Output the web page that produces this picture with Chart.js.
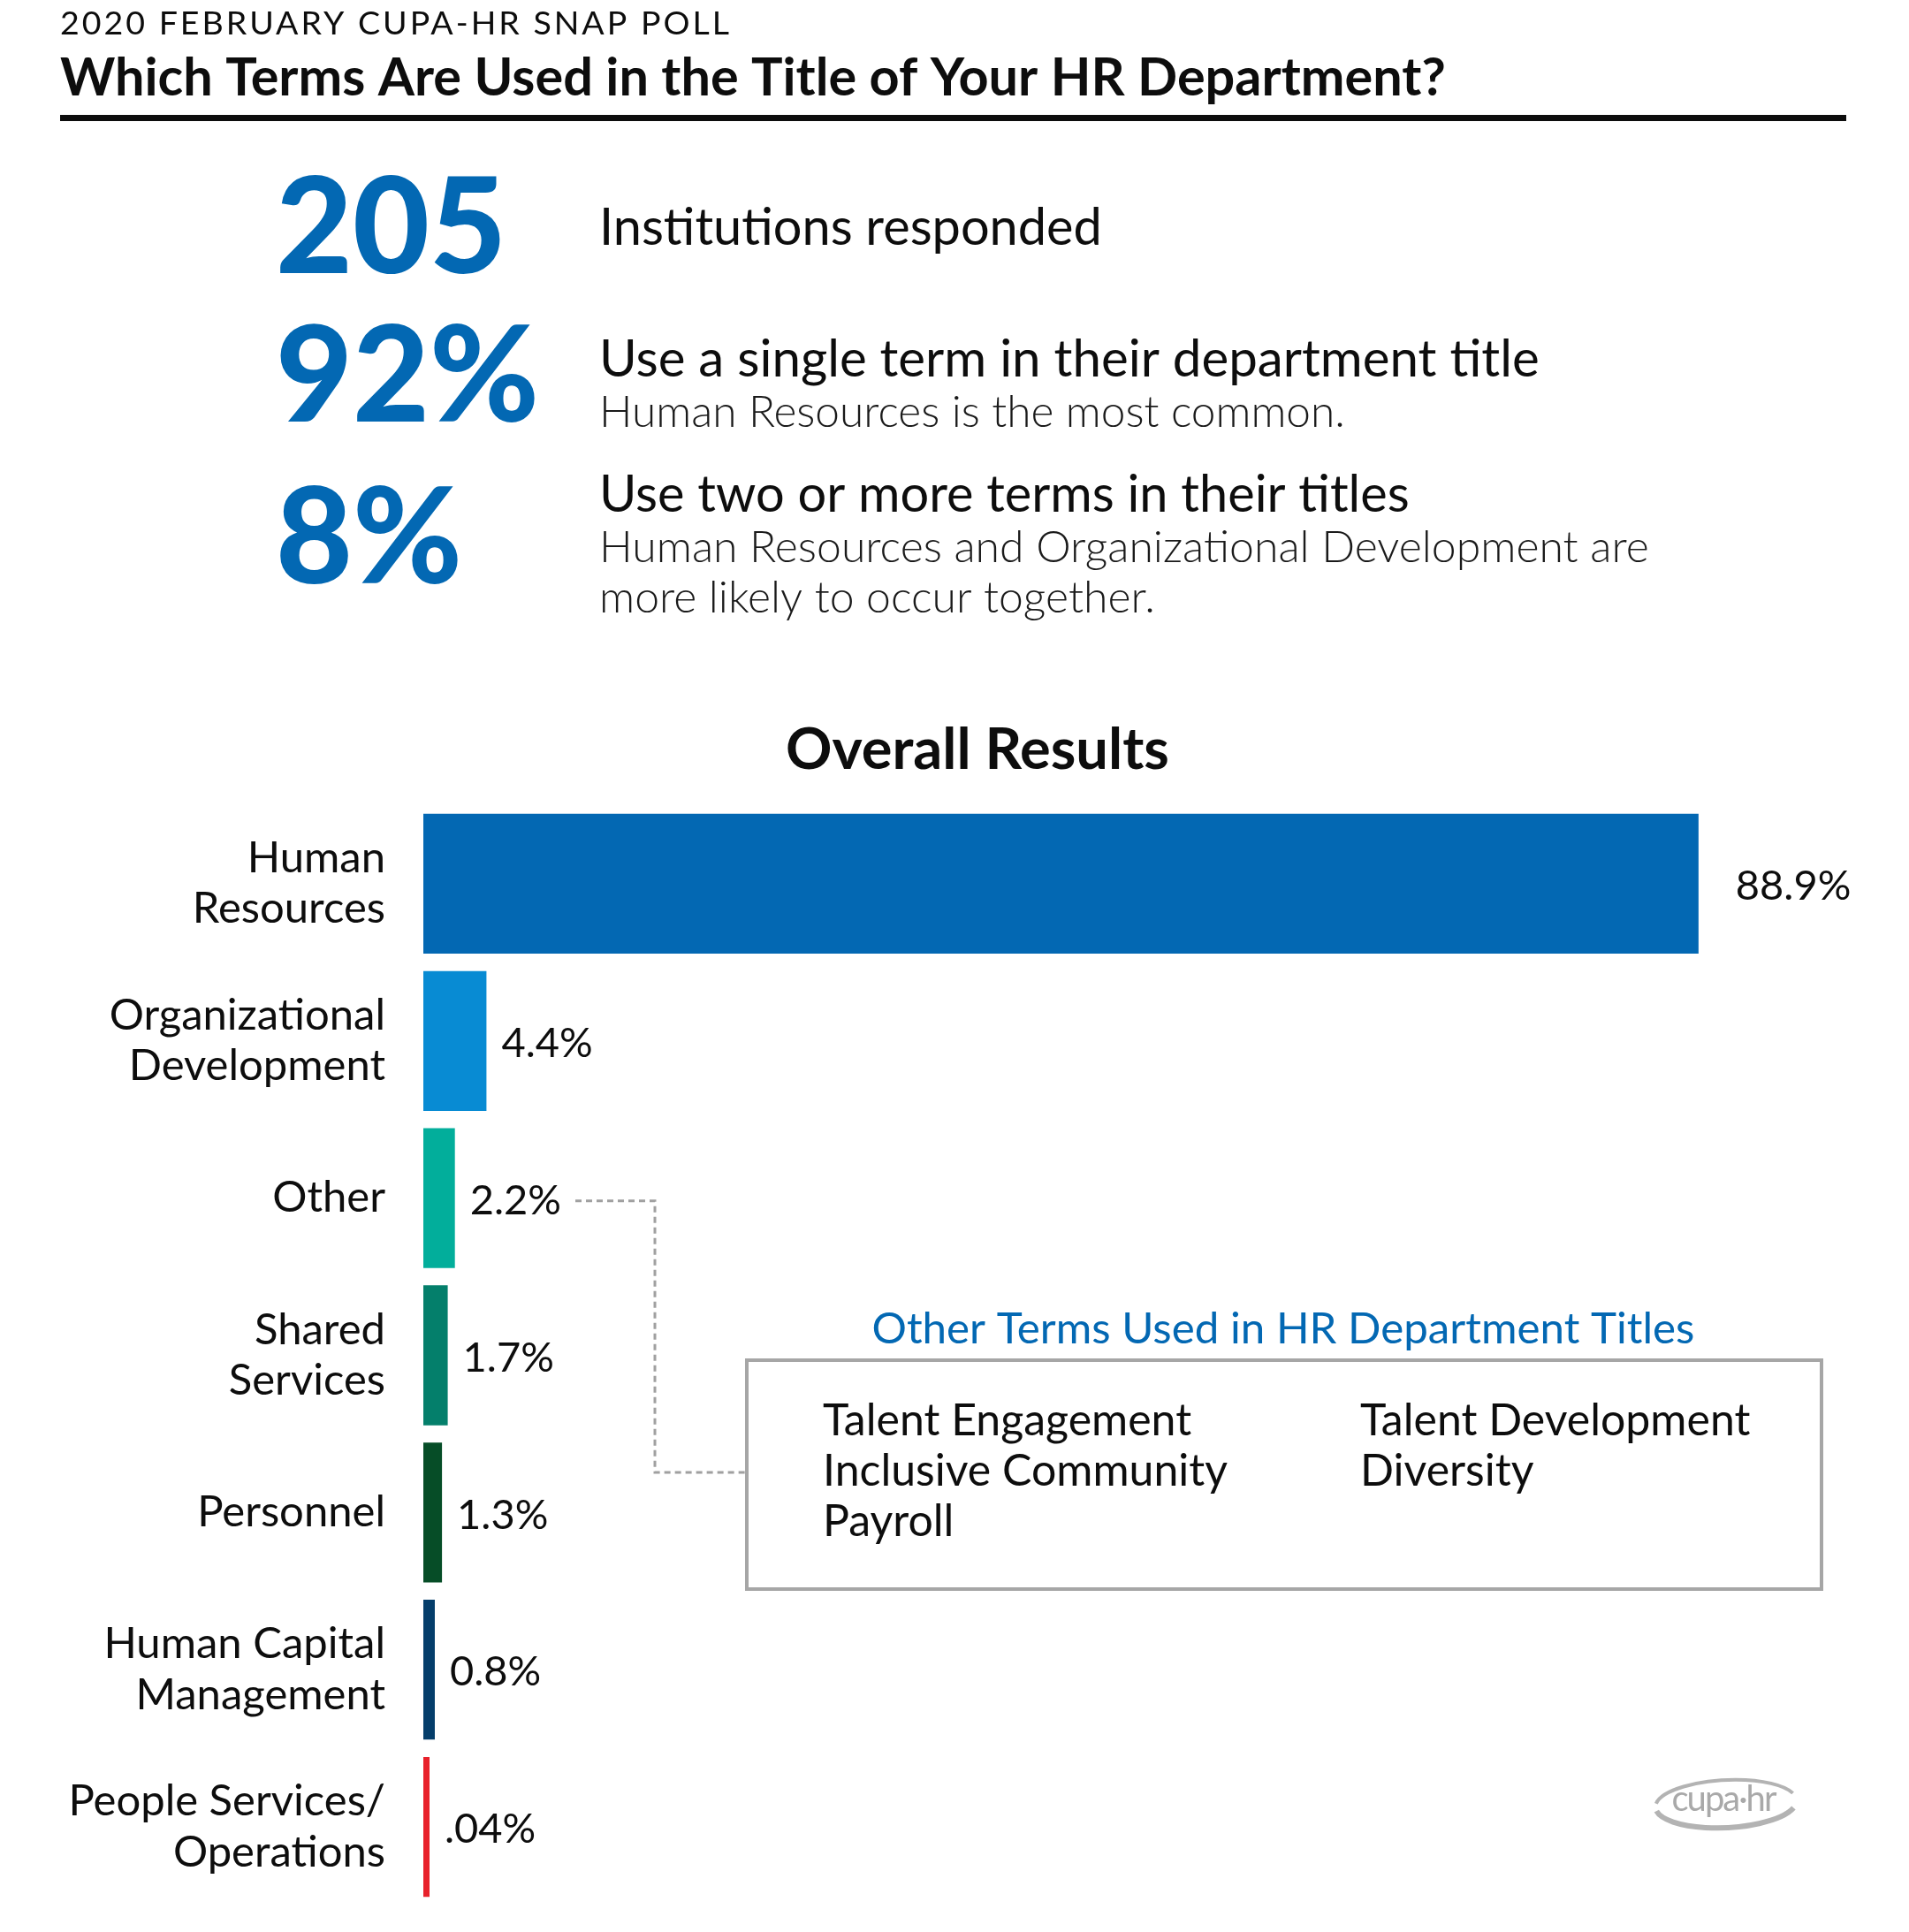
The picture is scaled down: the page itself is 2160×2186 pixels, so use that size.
<!DOCTYPE html>
<html>
<head>
<meta charset="utf-8">
<script src="https://cdn.jsdelivr.net/npm/chart.js@4.4.0/dist/chart.umd.min.js"></script>
<style>
  html, body { margin: 0; padding: 0; background: #fff; }
  canvas { display: block; }
</style>
</head>
<body>
<canvas id="pollChart" width="2160" height="2186"></canvas>
<script>
(function(){
  'use strict';

  const categories = [
    ['Human', 'Resources'],
    ['Organizational', 'Development'],
    ['Other'],
    ['Shared', 'Services'],
    ['Personnel'],
    ['Human Capital', 'Management'],
    ['People Services/', 'Operations']
  ];
  const shares = [88.9, 4.4, 2.2, 1.7, 1.3, 0.8, 0.04];
  const shareLabels = ['88.9%', '4.4%', '2.2%', '1.7%', '1.3%', '0.8%', '.04%'];
  const barColors = ['#0368b3', '#088bd3', '#02ae9b', '#047f6b', '#064d27', '#053e6b', '#e8212b'];
  const headlineNumbers = ['205', '92%', '8%'];
  const headlineTexts = ['Institutions responded', 'Use a single term in their department title', 'Use two or more terms in their titles'];
  const headlineNotes = [[], ['Human Resources is the most common.'], ['Human Resources and Organizational Development are', 'more likely to occur together.']];
  const otherTermsLeft = ['Talent Engagement', 'Inclusive Community', 'Payroll'];
  const otherTermsRight = ['Talent Development', 'Diversity'];

  const FONT = 'Lato, "Open Sans", sans-serif';
  const INK = '#0d0d0d';
  const BLUE = '#0368b3';

  function fitText(ctx, text, x, y, width, weight, base) {
    ctx.font = `${weight} ${base}px ${FONT}`;
    const w = ctx.measureText(text).width;
    let size = base * width / w;
    size = Math.max(base * 0.85, Math.min(base * 1.15, size));
    ctx.font = `${weight} ${size}px ${FONT}`;
    ctx.fillText(text, x, y);
  }

  const decor = {
    id: 'decor',
    afterDraw(chart) {
      const ctx = chart.ctx;
      ctx.save();
      ctx.textBaseline = 'alphabetic';
      ctx.textAlign = 'left';
      ctx.fillStyle = INK;

      // header
      ctx.letterSpacing = '3px';
      fitText(ctx, '2020 FEBRUARY CUPA-HR SNAP POLL', 68, 39, 773, 400, 33);
      ctx.letterSpacing = '0px';
      fitText(ctx, 'Which Terms Are Used in the Title of Your HR Department?', 68, 108, 1568, 700, 56);
      ctx.fillRect(68, 130, 2021, 7);

      // headline stats
      const numY = [309, 477, 660];
      const txtY = [277, 426, 579];
      const txtW = [569, 1064, 917];
      const noteW = [[], [844], [1188, 629]];
      headlineNumbers.forEach((n, i) => {
        ctx.fillStyle = BLUE;
        ctx.font = `900 150px ${FONT}`;
        ctx.fillText(n, 312, numY[i]);
        ctx.fillStyle = INK;
        fitText(ctx, headlineTexts[i], 678, txtY[i], txtW[i], 400, 54);
        headlineNotes[i].forEach((line, j) => {
          ctx.fillStyle = '#1a1a1a';
          fitText(ctx, line, 678, txtY[i] + 57 + j * 57, noteW[i][j], 300, 45);
        });
      });

      // chart heading
      ctx.fillStyle = INK;
      ctx.textAlign = 'center';
      ctx.font = `700 65px ${FONT}`;
      ctx.fillText('Overall Results', 1106, 870);

      // value labels next to each bar
      const meta = chart.getDatasetMeta(0);
      ctx.textAlign = 'left';
      ctx.textBaseline = 'middle';
      ctx.font = `400 47px ${FONT}`;
      let otherEnd = 0;
      meta.data.forEach((bar, i) => {
        const gap = i === 0 ? 42 : 17;
        ctx.fillText(shareLabels[i], bar.x + gap, bar.y + 3);
        if (i === 2) otherEnd = bar.x + gap + ctx.measureText(shareLabels[i]).width;
      });

      // dashed connector from "Other" to the box
      const oy = meta.data[2].y + 3;
      ctx.strokeStyle = '#a0a0a0';
      ctx.lineWidth = 3;
      ctx.setLineDash([7, 5]);
      ctx.beginPath();
      ctx.moveTo(otherEnd + 16, oy);
      ctx.lineTo(741, oy);
      ctx.lineTo(741, 1666);
      ctx.lineTo(843, 1666);
      ctx.stroke();
      ctx.setLineDash([]);

      // other terms box
      ctx.strokeStyle = '#a6a6a6';
      ctx.lineWidth = 4;
      ctx.strokeRect(845, 1539, 1216, 259);
      ctx.fillStyle = BLUE;
      ctx.textAlign = 'center';
      ctx.textBaseline = 'alphabetic';
      fitText(ctx, 'Other Terms Used in HR Department Titles', 1452, 1520, 931, 400, 46);
      ctx.textAlign = 'left';
      ctx.fillStyle = INK;
      ctx.font = `400 50px ${FONT}`;
      otherTermsLeft.forEach((t, i) => ctx.fillText(t, 931, 1624 + i * 57));
      otherTermsRight.forEach((t, i) => ctx.fillText(t, 1539, 1624 + i * 57));

      // cupa-hr logo
      ctx.strokeStyle = '#b3b3b3';
      ctx.fillStyle = '#a9a9a9';
      ctx.lineWidth = 4;
      ctx.beginPath();
      ctx.ellipse(1953, 2041, 80, 27, -0.05, Math.PI * 1.05, Math.PI * 1.9);
      ctx.stroke();
      ctx.beginPath();
      ctx.lineWidth = 6;
      ctx.ellipse(1953, 2041, 80, 27, -0.05, Math.PI * 0.1, Math.PI * 0.95);
      ctx.stroke();
      ctx.textAlign = 'center';
      ctx.textBaseline = 'middle';
      ctx.font = `400 40px ${FONT}`;
      ctx.letterSpacing = '-2px';
      ctx.fillText('cupa·hr', 1950, 2036);
      ctx.letterSpacing = '0px';
      ctx.restore();
    }
  };

  const ctx = document.getElementById('pollChart').getContext('2d');
  new Chart(ctx, {
    type: 'bar',
    data: {
      labels: categories,
      datasets: [{
        data: shares,
        backgroundColor: barColors,
        borderWidth: 0,
        barPercentage: 0.89,
        categoryPercentage: 1,
        minBarLength: 7
      }]
    },
    options: {
      indexAxis: 'y',
      responsive: false,
      devicePixelRatio: 1,
      animation: false,
      layout: { padding: { top: 911, bottom: 30, left: 0, right: 58 } },
      plugins: { legend: { display: false }, tooltip: { enabled: false } },
      scales: {
        x: { display: false, min: 0, max: 100 },
        y: {
          grid: { display: false, drawTicks: false },
          border: { display: false },
          ticks: { color: INK, padding: 43, font: { family: FONT, size: 49, lineHeight: 1.17 } },
          afterFit(scale) {
            scale.width = 479;
            scale.paddingTop = 0;
            scale.paddingBottom = 0;
          }
        }
      }
    },
    plugins: [decor]
  });
})();
</script>
</body>
</html>
